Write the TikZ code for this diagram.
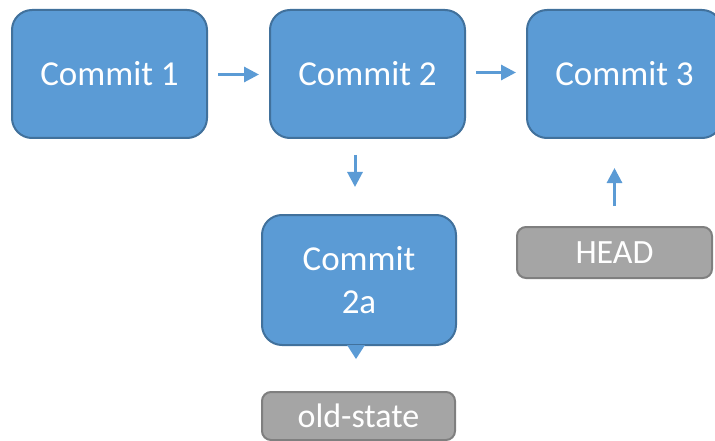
\documentclass[tikz,border=0pt]{standalone}
\usepackage{fontspec}
\setmainfont{Carlito}
\usetikzlibrary{arrows.meta,calc}
\definecolor{cfill}{HTML}{5B9BD5}
\definecolor{cline}{HTML}{41719C}
\definecolor{gfill}{HTML}{A5A5A5}
\definecolor{gline}{HTML}{7F7F7F}
\tikzset{
  commitbox/.style={draw=cline, fill=cfill, line width=2pt, rounded corners=20pt,
    text=white, align=center, inner sep=0pt, minimum width=195pt, minimum height=128pt,
    font=\fontsize{35}{43}\selectfont},
  refbox/.style={draw=gline, fill=gfill, line width=2pt, rounded corners=9pt,
    text=white, align=center, inner sep=0pt, minimum width=195pt, minimum height=51pt,
    font=\fontsize{34}{40}\selectfont},
  arr/.style={draw=cfill, line width=3pt, -{Triangle[length=15pt,width=15pt]}}
}
\begin{document}
\begin{tikzpicture}[x=1pt,y=-1pt]
\useasboundingbox (0,0) rectangle (715,441);
\node[commitbox] (c1) at (109.5,74) {Commit 1};
\node[commitbox] (c2) at (367.5,74) {Commit 2};
\node[commitbox] (c3) at (624.5,74) {Commit 3};
\node[commitbox, minimum width=194pt, minimum height=130pt] (c2a) at (359,280) {Commit\\2a};
\fill[cfill] ([xshift=-12pt,yshift=1pt]c2a.south) -- ([xshift=-3pt,yshift=-13pt]c2a.south) -- ([xshift=6pt,yshift=1pt]c2a.south) -- cycle;
\node[refbox] (head) at (614.5,252.5) {HEAD};
\node[refbox, minimum width=193pt, minimum height=48pt] (old) at (358.5,416) {old-state};
\draw[arr, shorten <=10pt, shorten >=10pt] ([yshift=-0.5pt]c1.east) -- ([yshift=-0.5pt]c2.west);
\draw[arr, shorten <=10pt, shorten >=10pt] ([yshift=1.5pt]c2.east) -- ([yshift=1.5pt]c3.west);
\draw[arr] ([xshift=-12.5pt,yshift=-16pt]c2.south) -- ([xshift=-4pt,yshift=27pt]c2a.north);
\draw[arr, shorten <=20pt, shorten >=29pt] (head.north) -- (c3.south -| head.north);
\end{tikzpicture}
\end{document}
